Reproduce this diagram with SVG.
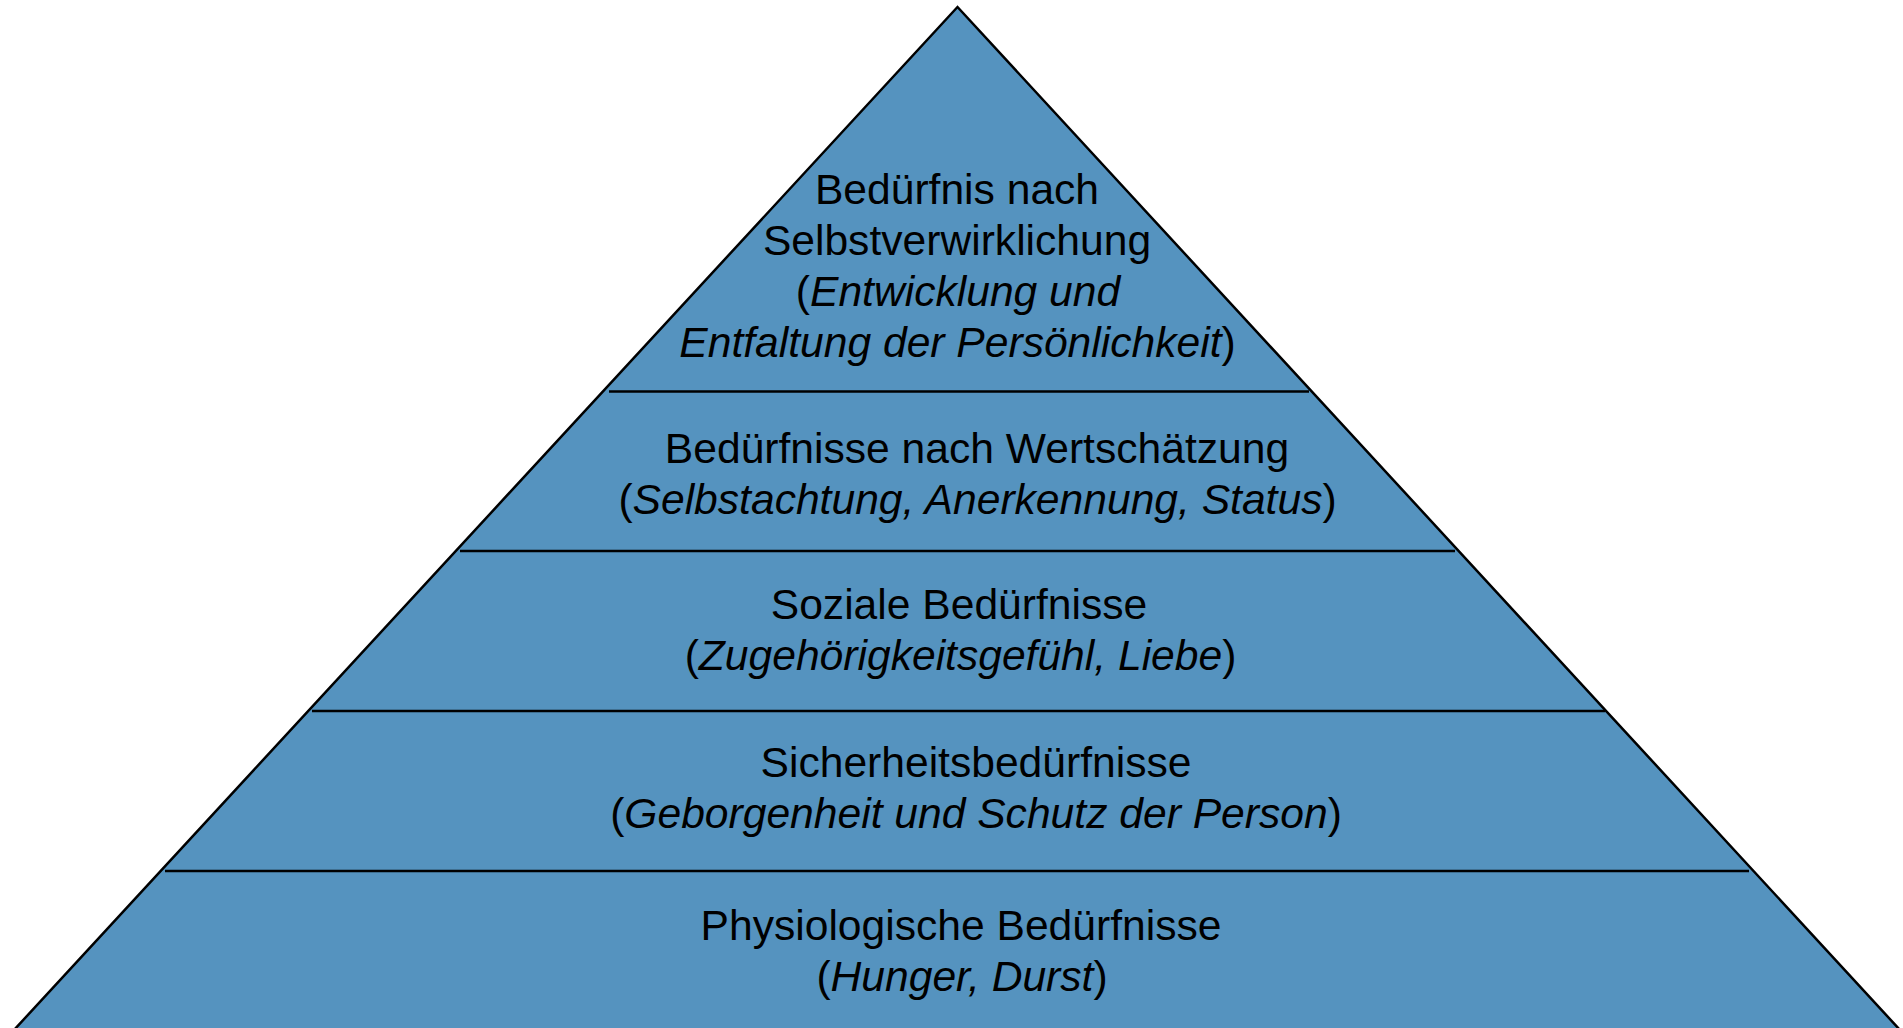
<svg xmlns="http://www.w3.org/2000/svg" width="1903" height="1028" viewBox="0 0 1903 1028">
<style>
.t{font-family:"Liberation Sans",Arial,sans-serif;font-size:42.6px;fill:#000;text-anchor:middle}
.i{font-style:italic}
.sep{stroke:#000;stroke-width:2.6;fill:none}
</style>
<rect width="1903" height="1028" fill="#fff"/>
<g id="pyramid">
<polygon points="957.5,7 14,1030 1900,1030" fill="#5593BF" stroke="#000" stroke-width="2.5" stroke-linejoin="miter"/>
</g>
<g id="connectors">
<line class="sep" x1="609" y1="391.5" x2="1309" y2="391.5"/>
<line class="sep" x1="460" y1="551" x2="1455" y2="551"/>
<line class="sep" x1="312" y1="711" x2="1605" y2="711"/>
<line class="sep" x1="165" y1="871" x2="1749" y2="871"/>
</g>
<g id="level5">
<text class="t" x="957" y="204">Bedürfnis nach</text>
<text class="t" x="957" y="255">Selbstverwirklichung</text>
<text class="t" x="958" y="306">(<tspan class="i">Entwicklung und</tspan></text>
<text class="t" x="957.5" y="357"><tspan class="i">Entfaltung der Persönlichkeit</tspan>)</text>
</g>
<g id="level4">
<text class="t" x="977" y="463">Bedürfnisse nach Wertschätzung</text>
<text class="t" x="977.5" y="514">(<tspan class="i">Selbstachtung, Anerkennung, Status</tspan>)</text>
</g>
<g id="level3">
<text class="t" x="959" y="619">Soziale Bedürfnisse</text>
<text class="t" x="960.5" y="670">(<tspan class="i">Zugehörigkeitsgefühl, Liebe</tspan>)</text>
</g>
<g id="level2">
<text class="t" x="976" y="777">Sicherheitsbedürfnisse</text>
<text class="t" x="976" y="828">(<tspan class="i">Geborgenheit und Schutz der Person</tspan>)</text>
</g>
<g id="level1">
<text class="t" x="961" y="940">Physiologische Bedürfnisse</text>
<text class="t" x="962" y="991">(<tspan class="i">Hunger, Durst</tspan>)</text>
</g>
</svg>
